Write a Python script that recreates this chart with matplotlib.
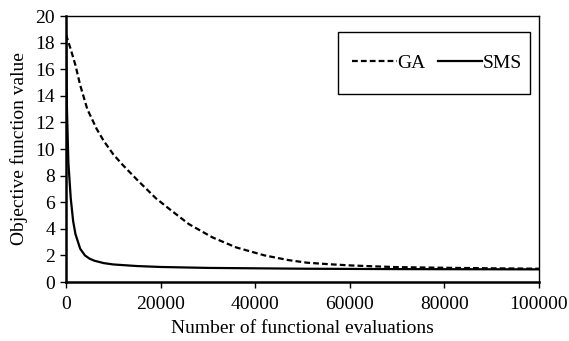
import numpy as np
import matplotlib

matplotlib.use("Agg")
import matplotlib.pyplot as plt  # noqa: E402
from matplotlib.patches import Rectangle  # noqa: E402

# values
evals_ga = [0, 1000, 2000, 3000, 4500, 6500, 8000, 10000, 12000, 15000, 19000,
            22000, 26000, 31000, 36000, 42000, 47000, 51000, 56000, 60000,
            65000, 70000, 80000, 90000, 100000]
obj_ga = [18.6, 17.5, 16.3, 14.8, 13.0, 11.5, 10.6, 9.6, 8.8, 7.7, 6.3,
          5.45, 4.35, 3.35, 2.6, 2.0, 1.65, 1.45, 1.33, 1.25,
          1.18, 1.12, 1.07, 1.03, 1.0]

evals_sms = [0, 200, 500, 1000, 1500, 2000, 3000, 4000, 5000, 6000, 8000,
             10000, 15000, 20000, 30000, 50000, 70000, 100000]
obj_sms = [19.0, 13.0, 9.0, 6.3, 4.6, 3.6, 2.5, 2.0, 1.75, 1.6, 1.42,
           1.32, 1.2, 1.13, 1.06, 1.0, 0.97, 0.95]

x_ticks = [0, 20000, 40000, 60000, 80000, 100000]
y_ticks = list(range(0, 21, 2))

plt.rcParams["font.family"] = ["Liberation Serif", "DejaVu Serif"]
FS = 14

fig = plt.figure(figsize=(5.69, 3.41), dpi=100)
ax = fig.add_axes([0.116, 0.173, 0.831, 0.780])

ax.plot(evals_ga, obj_ga, color="black", lw=1.6, dashes=(2.6, 1.4), label="GA")
ax.plot(evals_sms, obj_sms, color="black", lw=1.6, label="SMS")

ax.set_xlim(0, 100000)
ax.set_ylim(0, 20)
ax.set_xticks(x_ticks)
ax.set_yticks(y_ticks)
ax.set_xticklabels([str(v) for v in x_ticks])
ax.tick_params(direction="out", length=4, width=1, labelsize=FS)
ax.tick_params(axis="x", pad=6)
ax.tick_params(axis="y", pad=4)

for side in ("left", "bottom"):
    ax.spines[side].set_linewidth(1.8)
for side in ("top", "right"):
    ax.spines[side].set_linewidth(1.0)

ax.set_xlabel("Number of functional evaluations", fontsize=FS, labelpad=5)
ax.set_ylabel("Objective function value", fontsize=FS, labelpad=5)

# legend box drawn separately so its padding can differ from the entries
ax.add_patch(Rectangle((0.575, 0.707), 0.406, 0.233, transform=ax.transAxes,
                       fill=False, edgecolor="black", lw=1.0, zorder=5))
ax.legend(loc="center left", bbox_to_anchor=(0.605, 0.823), ncol=2,
          fontsize=FS, frameon=False, borderpad=0, borderaxespad=0,
          handlelength=2.3, handletextpad=0.0, columnspacing=0.65)

fig.savefig("out.png", dpi=100)
